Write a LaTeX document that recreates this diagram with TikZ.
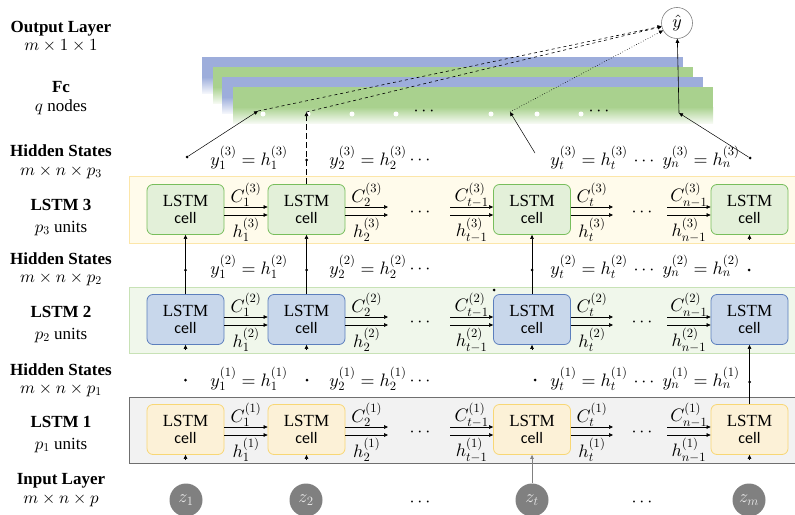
\documentclass[tikz,border=0pt]{standalone}
\usepackage{fontspec}
\setmainfont{Liberation Serif}
\newfontfamily\cellfont{Carlito}
\usetikzlibrary{arrows.meta}

% scalable math fonts at any size
\DeclareFontShape{OML}{cmm}{m}{it}{<->cmmi10}{}
\DeclareFontShape{OMS}{cmsy}{m}{n}{<->cmsy10}{}
\DeclareFontShape{OMX}{cmex}{m}{n}{<->cmex10}{}
\DeclareFontShape{OT1}{cmr}{m}{n}{<->cmr10}{}

\definecolor{fcblue}{HTML}{9DADDB}
\definecolor{fcgreen}{HTML}{A9D18E}
\definecolor{bandAfill}{HTML}{FFFBEB}
\definecolor{bandAline}{HTML}{FCE6A9}
\definecolor{bandBfill}{HTML}{F0F7EB}
\definecolor{bandBline}{HTML}{C8E2B6}
\definecolor{bandCfill}{HTML}{F2F2F2}
\definecolor{bandCline}{HTML}{6F6F6F}
\definecolor{cellAfill}{HTML}{E3F0D9}
\definecolor{cellAline}{HTML}{78BE5C}
\definecolor{cellBfill}{HTML}{C8D7EB}
\definecolor{cellBline}{HTML}{5C7FBD}
\definecolor{cellCfill}{HTML}{FCF1D7}
\definecolor{cellCline}{HTML}{F8D775}
\definecolor{zfill}{HTML}{808080}
\definecolor{ztext}{HTML}{E6E6E6}

\tikzset{
  arr/.style={-{Triangle[length=4pt,width=3.6pt]}, line width=0.6pt},
  lstmcell/.style={rounded corners=6pt, minimum width=77pt, minimum height=50pt,
    align=center, inner sep=0pt, line width=0.8pt,
    font=\fontsize{17}{17.5}\selectfont},
  cellthree/.style={lstmcell, draw=cellAline, fill=cellAfill},
  celltwo/.style={lstmcell, draw=cellBline, fill=cellBfill},
  cellone/.style={lstmcell, draw=cellCline, fill=cellCfill},
  sidelabel/.style={font=\fontsize{17}{19}\bfseries\selectfont, anchor=base, inner sep=1pt},
  sidesub/.style={font=\fontsize{17}{19}\selectfont, anchor=base, inner sep=1pt},
  hdot/.style={circle, fill=black, inner sep=0pt, minimum size=3pt},
  fcdot/.style={circle, fill=white, inner sep=0pt, minimum size=5pt},
  zin/.style={circle, fill=zfill, inner sep=0pt, minimum size=33pt,
    text=ztext, font=\fontsize{18}{20}\selectfont},
  every node/.append style={font=\fontsize{18}{20}\selectfont}
}

% one LSTM layer: #1 layer index, #2 centre height, #3 cell style
\newcommand\lstmrow[3]{%
  \node[#3] (c#11) at (185.5,#2) {LSTM\\{\cellfont\fontsize{16}{17}\selectfont cell}};
  \node[#3] (c#12) at (306.5,#2) {LSTM\\{\cellfont\fontsize{16}{17}\selectfont cell}};
  \node[#3] (c#1t) at (532,#2) {LSTM\\{\cellfont\fontsize{16}{17}\selectfont cell}};
  \node[#3] (c#1n) at (749.5,#2) {LSTM\\{\cellfont\fontsize{16}{17}\selectfont cell}};
  \coordinate (e#1a) at (388,#2);
  \coordinate (s#1b) at (450,#2);
  \coordinate (e#1c) at (613,#2);
  \coordinate (s#1d) at (667,#2);
  \node (d#1a) at (420,#2+3) {$\cdots$};
  \node (d#1b) at (642,#2+3) {$\cdots$};
  \draw[arr] ([yshift=2.5pt]c#11.east) -- ([yshift=2.5pt]c#12.west)
    node[midway, yshift=12pt] {$C_1^{(#1)}$};
  \draw[arr] ([yshift=-5.5pt]c#11.east) -- ([yshift=-5.5pt]c#12.west)
    node[midway, yshift=-15pt] {$h_1^{(#1)}$};
  \draw[arr] ([yshift=2.5pt]c#12.east) -- ([yshift=2.5pt]e#1a)
    node[midway, yshift=12pt] {$C_2^{(#1)}$};
  \draw[arr] ([yshift=-5.5pt]c#12.east) -- ([yshift=-5.5pt]e#1a)
    node[midway, yshift=-15pt] {$h_2^{(#1)}$};
  \draw[arr] ([yshift=2.5pt]s#1b) -- ([yshift=2.5pt]c#1t.west)
    node[midway, yshift=12pt] {$C_{t-1}^{(#1)}$};
  \draw[arr] ([yshift=-5.5pt]s#1b) -- ([yshift=-5.5pt]c#1t.west)
    node[midway, yshift=-15pt] {$h_{t-1}^{(#1)}$};
  \draw[arr] ([yshift=2.5pt]c#1t.east) -- ([yshift=2.5pt]e#1c)
    node[midway, yshift=12pt] {$C_t^{(#1)}$};
  \draw[arr] ([yshift=-5.5pt]c#1t.east) -- ([yshift=-5.5pt]e#1c)
    node[midway, yshift=-15pt] {$h_t^{(#1)}$};
  \draw[arr] ([yshift=2.5pt]s#1d) -- ([yshift=2.5pt]c#1n.west)
    node[midway, yshift=12pt] {$C_{n-1}^{(#1)}$};
  \draw[arr] ([yshift=-5.5pt]s#1d) -- ([yshift=-5.5pt]c#1n.west)
    node[midway, yshift=-15pt] {$h_{n-1}^{(#1)}$};
}

% one row of hidden states: #1 layer index, #2 height
\newcommand\hiddenrow[2]{%
  \node (y#11) at (249,#2) {$y_1^{(#1)} = h_1^{(#1)}$};
  \node (y#12) at (368,#2) {$y_2^{(#1)} = h_2^{(#1)}$};
  \node (y#1d) at (420,#2+2) {$\cdots$};
  \node (y#1r) at (645,#2) {$y_t^{(#1)} = h_t^{(#1)}\,\cdots\; y_n^{(#1)} = h_n^{(#1)}$};
}

% one Fc sheet: colour, left, top, right
\newcommand\fcsheet[4]{%
  \fill[#1] (#2,#3) rectangle (#4,#3+20);
  \shade[top color=#1, bottom color=#1!12] (#2,#3+20) rectangle (#4,#3+36);
}

\begin{document}
\begin{tikzpicture}[x=1pt, y=-1pt]
\useasboundingbox (0,0) rectangle (795,514);

% ---- side labels ----
\node[sidelabel] (lout) at (61,32) {Output Layer};
\node[sidesub] (lout2) at (61,50) {$m \times 1 \times 1$};
\node[sidelabel] (lfc) at (61,92) {Fc};
\node[sidesub] (lfc2) at (61,111) {$q$ nodes};
\node[sidelabel] (lh3) at (61,156) {Hidden States};
\node[sidesub] (lh32) at (61,175) {$m \times n \times p_3$};
\node[sidelabel] (ll3) at (61,210) {LSTM 3};
\node[sidesub] (ll32) at (61,232) {$p_3$ units};
\node[sidelabel] (lh2) at (61,264) {Hidden States};
\node[sidesub] (lh22) at (61,282) {$m \times n \times p_2$};
\node[sidelabel] (ll2) at (61,317) {LSTM 2};
\node[sidesub] (ll22) at (61,339) {$p_2$ units};
\node[sidelabel] (lh1) at (61,375) {Hidden States};
\node[sidesub] (lh12) at (61,393) {$m \times n \times p_1$};
\node[sidelabel] (ll1) at (61,427) {LSTM 1};
\node[sidesub] (ll12) at (61,449) {$p_1$ units};
\node[sidelabel] (lin) at (61,484) {Input Layer};
\node[sidesub] (lin2) at (61,503) {$m \times n \times p$};

% ---- layer bands ----
\draw[draw=bandAline, fill=bandAfill, line width=0.8pt] (129.5,176.5) rectangle (797,243);
\draw[draw=bandBline, fill=bandBfill, line width=0.8pt] (129.5,287) rectangle (797,353);
\draw[draw=bandCline, fill=bandCfill, line width=0.8pt] (129.5,397) rectangle (797,463);

% ---- LSTM layers ----
\lstmrow{3}{209.5}{cellthree}
\lstmrow{2}{319.5}{celltwo}
\lstmrow{1}{429.5}{cellone}

% ---- hidden state rows ----
\hiddenrow{3}{158}
\hiddenrow{2}{267}
\hiddenrow{1}{379}

% ---- inputs ----
\node[zin] (z1) at (186,500) {$z_1$};
\node[zin] (z2) at (306,500) {$z_2$};
\node[zin] (zt) at (532,500) {$z_t$};
\node[zin] (zm) at (749,500) {$z_m$};
\node (zd1) at (420,502) {$\cdots$};
\node (zd2) at (642,502) {$\cdots$};

% ---- stubs and links between layers ----
\coordinate (b11) at (185.5,460);
\coordinate (b12) at (306.5,460);
\coordinate (b1n) at (749.5,460);
\draw[arr] (b11) -- (c11.south);
\draw[arr] (b12) -- (c12.south);
\draw[arr] (b1n) -- (c1n.south);
\draw[arr, draw=gray, line width=0.7pt] (zt) -- (c1t.south);

\coordinate (b21) at (185.5,350);
\coordinate (b22) at (306.5,350);
\coordinate (b2t) at (532,350);
\draw[arr] (b21) -- (c21.south);
\draw[arr] (b22) -- (c22.south);
\draw[arr] (b2t) -- (c2t.south);
\draw[arr] (c1n.north) -- (c2n.south);

\coordinate (b3n) at (749.5,240);
\draw[arr] (b3n) -- (c3n.south);
\draw[arr] (c21.north) -- (c31.south);
\draw[arr] (c22.north) -- (c32.south);
\draw[arr] (c2t.north) -- (c3t.south);

% dots on the hidden state rows
\node[hdot] (p31) at (187,157) {};
\node[hdot] (p32) at (306.5,160) {};
\node[hdot] (p3n) at (750,158) {};
\node[hdot] (p21) at (185.5,270) {};
\node[hdot] (p22) at (306.5,270) {};
\node[hdot] (p2t) at (532,270) {};
\node[hdot] (p2n) at (749,270) {};
\node[hdot] (p11) at (185.5,380) {};
\node[hdot] (p12) at (307,380) {};
\node[hdot] (p1t) at (535,380) {};
\node[hdot] (p1n) at (749.5,382) {};
\node[hdot] (pc) at (494,290) {};

% ---- Fc sheets ----
\fcsheet{fcblue}{202}{57}{683}
\fcsheet{fcgreen}{213}{67}{693}
\fcsheet{fcblue}{222}{77}{703}
\fcsheet{fcgreen}{233}{87}{713}

\node[fcdot] (f1) at (263,114) {};
\node[fcdot] (f2) at (308,114) {};
\node[fcdot] (f3) at (352,114) {};
\node[fcdot] (f4) at (396,114) {};
\node[fcdot] (f5) at (491,114) {};
\node[fcdot] (f6) at (537,114) {};
\node[fcdot] (f7) at (581,114) {};
\node (fd1) at (424,111) {$\cdots$};
\node (fd2) at (599,111) {$\cdots$};

% ---- output ----
\node[circle, draw=gray, line width=0.6pt, minimum size=31pt, inner sep=0pt,
  font=\fontsize{18}{20}\selectfont] (yhat) at (677,23) {$\hat{y}$};

\coordinate (in1) at (258,111);
\coordinate (in2) at (306.5,112);
\coordinate (in3) at (510,112);
\coordinate (in4) at (679,113);
\coordinate (st3) at (535,153);

\draw[arr, line width=0.5pt] (p31) -- (in1);
\draw[arr, dash pattern=on 6pt off 3pt] (c32.north) -- (in2);
\draw[arr, line width=0.5pt] (st3) -- (in3);
\draw[arr, line width=0.5pt] (p3n) -- (in4);

\draw[arr, dashed] (in1) -- (yhat);
\draw[arr, dashed] (in2) -- (yhat);
\draw[arr, dotted] (in3) -- (yhat);
\draw[arr] (in4) -- (yhat);
\end{tikzpicture}
\end{document}
